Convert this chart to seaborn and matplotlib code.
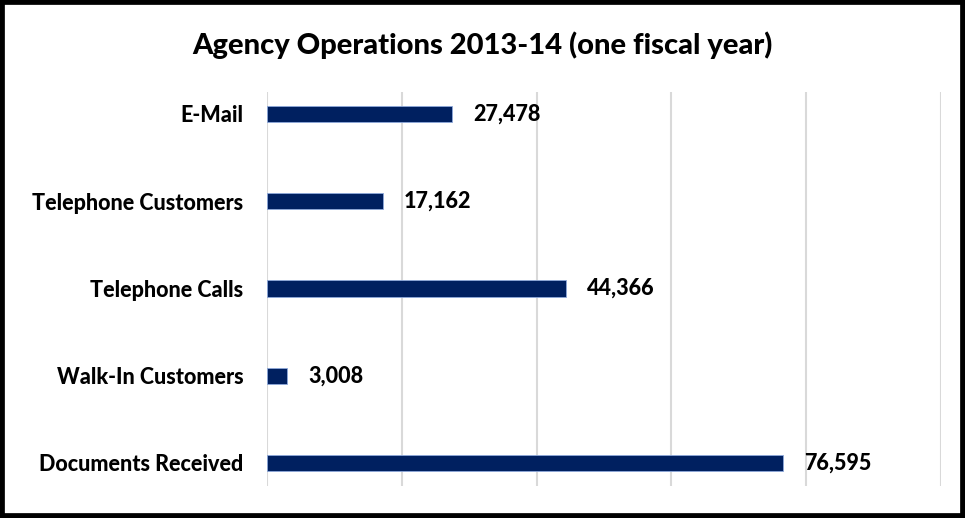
import matplotlib
matplotlib.use("Agg")
import matplotlib.pyplot as plt
from matplotlib.patches import Rectangle
import seaborn as sns
import pandas as pd

categories = ["E-Mail", "Telephone Customers", "Telephone Calls",
              "Walk-In Customers", "Documents Received"]
counts = [27478, 17162, 44366, 3008, 76595]
title = "Agency Operations 2013-14 (one fiscal year)"

sns.set_theme(style="white")
plt.rcParams["font.family"] = ["Lato", "DejaVu Sans"]

df = pd.DataFrame({"category": categories, "count": counts})

fig = plt.figure(figsize=(9.65, 5.18), dpi=100)
ax = fig.add_axes([0.2767, 0.0618, 0.6984, 0.7606])

sns.barplot(data=df, x="count", y="category", orient="h", ax=ax,
            color="#002060", width=0.185, edgecolor="#8ea9db",
            linewidth=0.6, saturation=1)

ax.set_xlim(0, 100000)
ax.set_ylim(4.264, -0.252)
ax.set_xticks(range(0, 100001, 20000))
ax.xaxis.grid(True, color="#d9d9d9", linewidth=1.5)
ax.set_axisbelow(True)
ax.tick_params(axis="x", labelbottom=False, length=0)
ax.tick_params(axis="y", length=0, pad=17)
for lbl in ax.get_yticklabels():
    lbl.set_fontsize(15.5)
    lbl.set_fontweight("black")
    lbl.set_color("black")
ax.set_xlabel("")
ax.set_ylabel("")
for s in ax.spines.values():
    s.set_visible(False)

for container in ax.containers:
    ax.bar_label(container, labels=[f"{v:,}" for v in counts], padding=15,
                 fontsize=15.5, fontweight="black", color="black")

fig.text(0.5, 0.912, title, ha="center", va="center",
         fontsize=21, fontweight="black", color="black")

fig.patches.append(Rectangle((0, 0), 1, 1, transform=fig.transFigure,
                             fill=False, edgecolor="black", linewidth=7,
                             zorder=10))

fig.savefig("out.png", dpi=100)
